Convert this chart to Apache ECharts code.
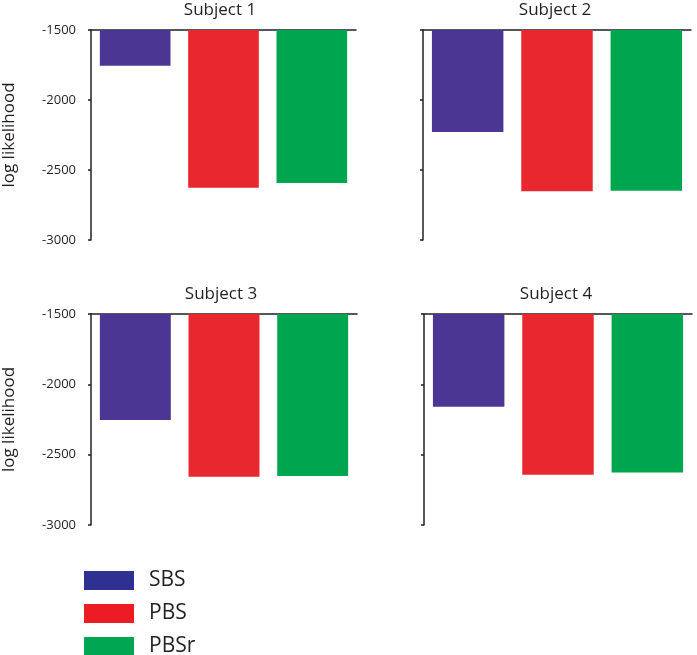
<!DOCTYPE html>
<html>
<head>
<meta charset="utf-8">
<script src="https://cdn.jsdelivr.net/npm/echarts@6/dist/echarts.min.js"></script>
<style>
  html, body { margin: 0; padding: 0; background: #fff; }
  #chart { width: 697px; height: 655px; }
</style>
</head>
<body>
<div id="chart"></div>
<script>
// data
const subjects = ["Subject 1", "Subject 2", "Subject 3", "Subject 4"];
const methods = ["SBS", "PBS", "PBSr"];
const sbs = [-1755, -2228, -2253, -2160];
const pbs = [-2627, -2651, -2657, -2643];
const pbsr = [-2592, -2649, -2652, -2626];
const yMin = -3000;
const yMax = -1500;
const yStep = 500;

const values = [sbs, pbs, pbsr];
const barColors = ["#4b3694", "#e8282e", "#00a64f"];
const legendColors = ["#2e3192", "#ed1c24", "#00a651"];
const ink = "#231f20";
const font = "Open Sans";

// panel boxes (left, top, width, height)
const panels = [
  [88, 30, 268, 210],
  [423, 30, 268, 210],
  [89, 314, 268, 211],
  [424, 314, 268, 211]
];

let myChart = echarts.init(document.getElementById("chart"));

let grid = [], xAxis = [], yAxis = [], title = [], series = [];

panels.forEach((p, i) => {
  let leftCol = i % 2 === 0;
  grid.push({ left: p[0], top: p[1], width: p[2], height: p[3] });
  title.push({
    text: subjects[i],
    left: p[0] + p[2] / 2 - 2,
    top: p[1] - 28,
    padding: 0,
    textAlign: "center",
    textStyle: { color: ink, fontFamily: font, fontSize: 17, fontWeight: "normal" }
  });
  xAxis.push({
    type: "category",
    gridIndex: i,
    position: "top",
    data: methods,
    axisLine: { onZero: false, lineStyle: { color: ink, width: 1.5 } },
    axisTick: { show: false },
    axisLabel: { show: false },
    splitLine: { show: false }
  });
  yAxis.push({
    type: "value",
    gridIndex: i,
    min: yMin,
    max: yMax,
    interval: yStep,
    name: leftCol ? "log likelihood" : "",
    nameLocation: "middle",
    nameRotate: 90,
    nameGap: 73,
    nameTextStyle: { color: ink, fontFamily: font, fontSize: 17 },
    axisLine: { show: true, lineStyle: { color: ink, width: 1.5 } },
    axisTick: { show: true, length: 3, lineStyle: { color: ink, width: 1.5 } },
    axisLabel: {
      show: leftCol,
      margin: 15,
      color: ink,
      fontFamily: font,
      fontSize: 13,
      formatter: v => String(v)
    },
    splitLine: { show: false }
  });
  methods.forEach((m, j) => {
    // one value per category, rest empty, stacked so each bar fills its slot
    let d = methods.map((_, k) => (k === j ? values[j][i] : "-"));
    series.push({
      name: m,
      type: "bar",
      xAxisIndex: i,
      yAxisIndex: i,
      stack: "s" + i,
      data: d,
      barCategoryGap: "20%",
      clip: true,
      itemStyle: { color: barColors[j] }
    });
  });
});

myChart.setOption({
  animation: false,
  title: title,
  grid: grid,
  xAxis: xAxis,
  yAxis: yAxis,
  legend: {
    orient: "vertical",
    left: 84,
    top: 570,
    height: 120,
    padding: 0,
    itemWidth: 50,
    itemHeight: 19,
    itemGap: 12,
    icon: "rect",
    data: methods.map((m, j) => ({ name: m, itemStyle: { color: legendColors[j] } })),
    textStyle: { color: ink, fontFamily: font, fontSize: 21, padding: [0, 0, 0, 10] }
  },
  series: series
});
</script>
</body>
</html>
